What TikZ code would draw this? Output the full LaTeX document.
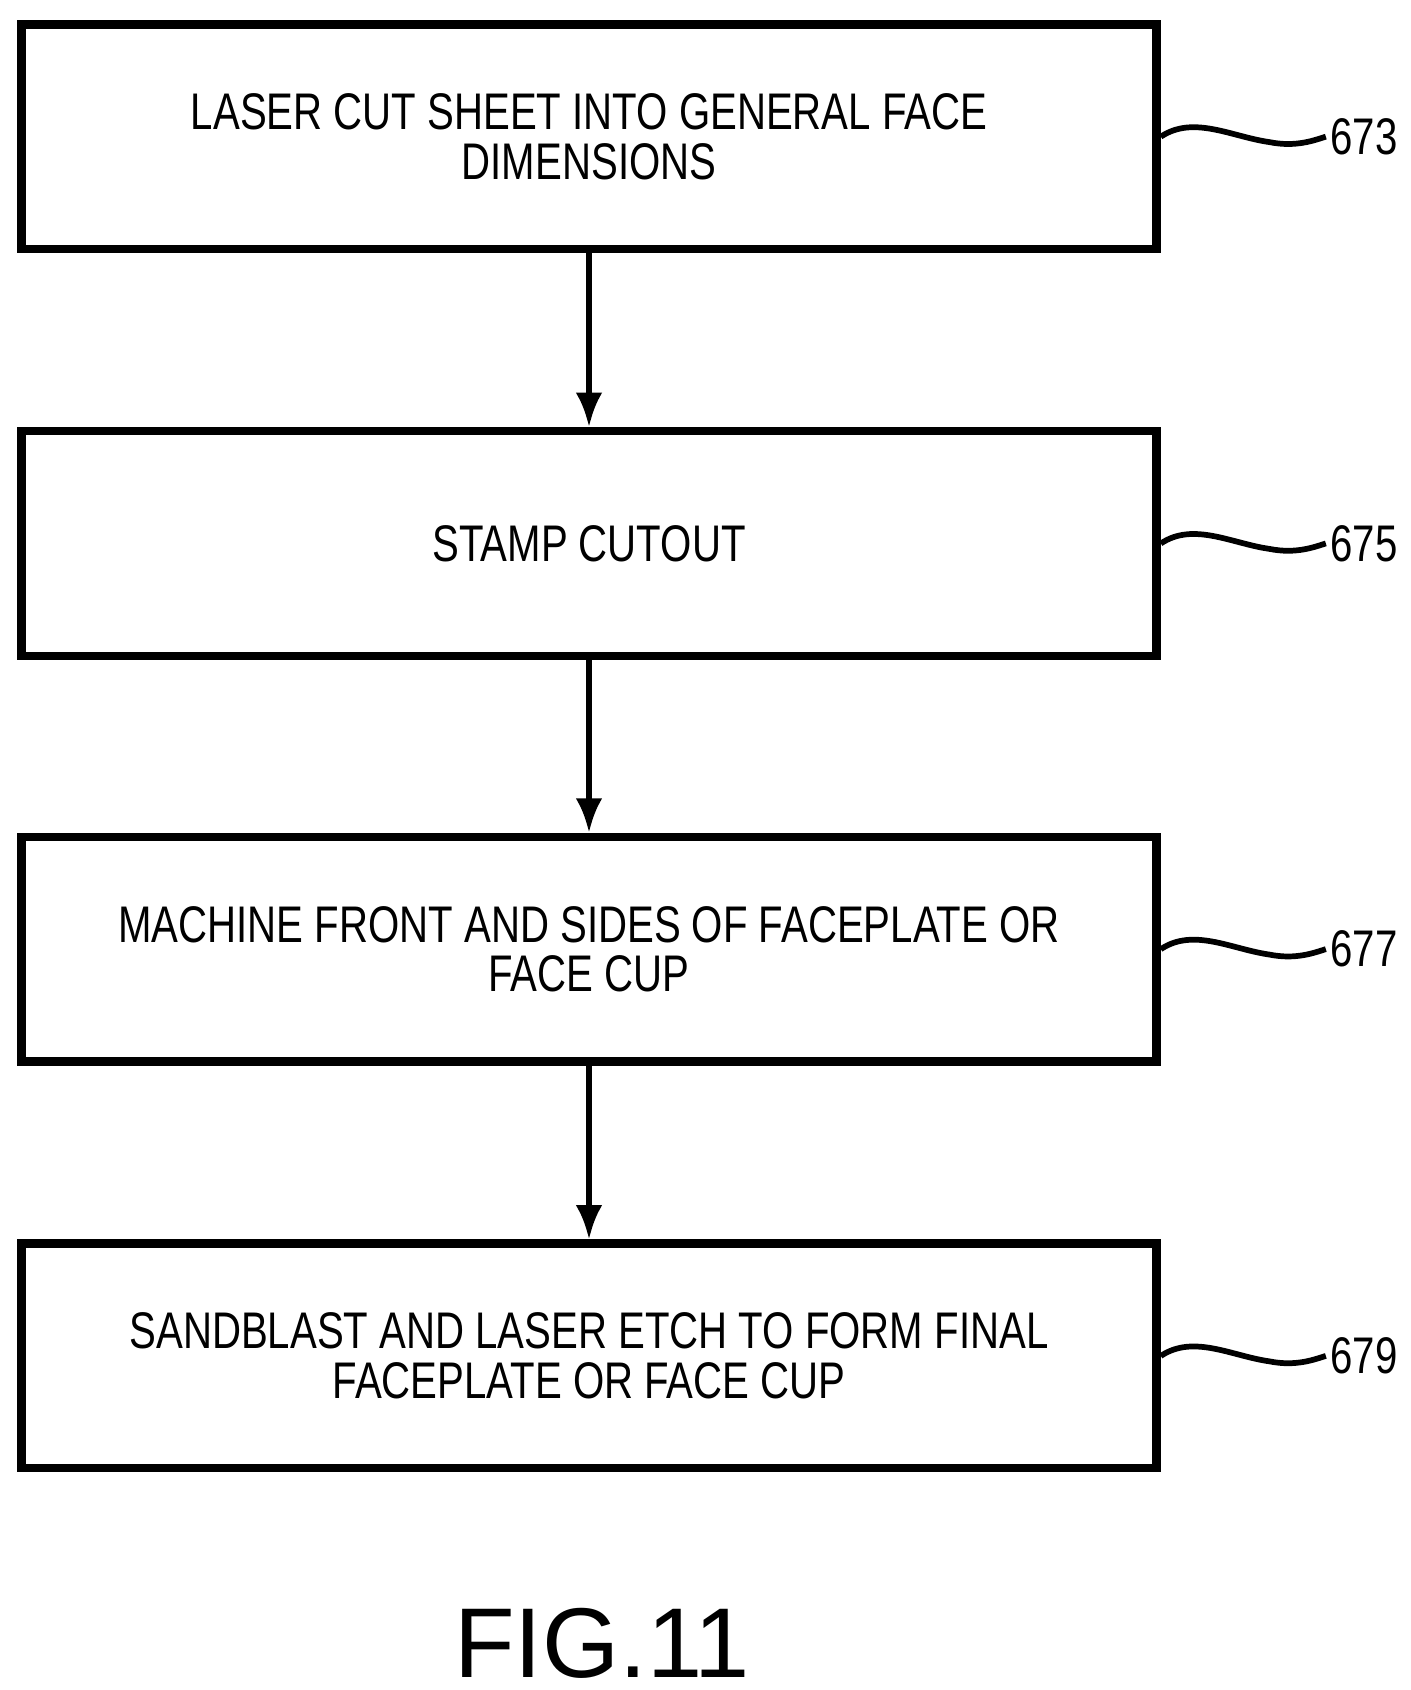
\documentclass[tikz,border=0pt]{standalone}
\usepackage{fontspec}
\usetikzlibrary{arrows.meta}
\setmainfont{Liberation Sans}
\newfontfamily\narrowfont{Liberation Sans}[FakeStretch=0.78]
\begin{document}
\begin{tikzpicture}[x=0.01cm,y=-0.01cm,
  procbox/.style={draw,line width=2.2pt,minimum width=10.46cm,minimum height=2.07cm,
    inner sep=0pt,align=center,font=\narrowfont\fontsize{13.5}{13}\selectfont},
  flow/.style={line width=1.5pt,-{Latex[length=9pt,width=7pt]}},
  refnum/.style={font=\narrowfont\fontsize{13.5}{13}\selectfont,anchor=west,inner sep=1pt}]
\useasboundingbox (0,0) rectangle (1300,1558);
% boxes
\node[procbox] (cut) at (543,126) {LASER CUT SHEET INTO GENERAL FACE\\DIMENSIONS};
\node[procbox] (stamp) at (543,501) {STAMP CUTOUT};
\node[procbox] (machine) at (543,875) {MACHINE FRONT AND SIDES OF FACEPLATE OR\\FACE CUP};
\node[procbox] (blast) at (543,1250) {SANDBLAST AND LASER ETCH TO FORM FINAL\\FACEPLATE OR FACE CUP};
% arrows
\draw[flow] (cut) -- (stamp);
\draw[flow] (stamp) -- (machine);
\draw[flow] (machine) -- (blast);
% reference numbers
\foreach \blk/\num in {cut/673,stamp/675,machine/677,blast/679}{
  \node[refnum] (n\num) at ([xshift=1.52cm]\blk.east) {\num};
  \draw[line width=1.5pt] (\blk.east) .. controls +(30,-20) and +(-35,-5) .. ++(100,5)
    .. controls +(25,5) and +(-10,3) .. (n\num.west);
}
\node[font=\fontsize{26}{26}\selectfont] (fig) at (555,1515) {FIG.11};
\end{tikzpicture}
\end{document}
